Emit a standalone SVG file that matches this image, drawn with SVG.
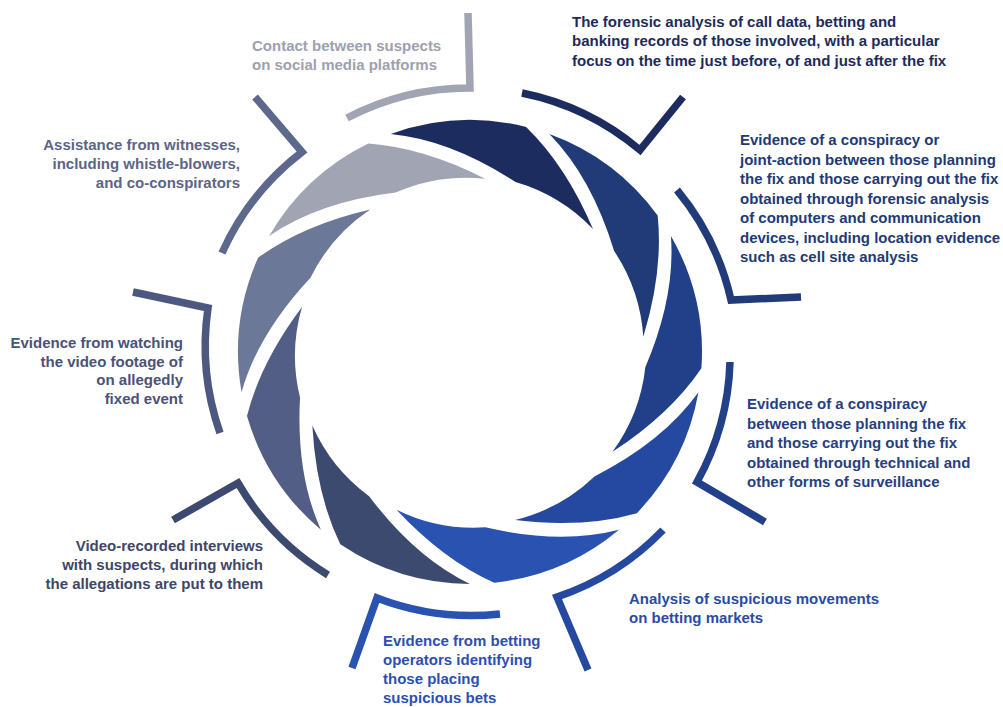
<svg xmlns="http://www.w3.org/2000/svg" xmlns:xlink="http://www.w3.org/1999/xlink" width="1003" height="707" viewBox="0 0 1003 707">
  <style>
    .lbl { font-family: "Liberation Sans", Arial, sans-serif; font-weight: bold; font-size: 15px; }
    .end { text-anchor: end; }
    .brk { fill: none; stroke-width: 7.5; stroke-linecap: butt; stroke-linejoin: miter; }
  </style>
  <defs>
    <path id="blade" d="M 390.7 134 A 233 233 0 0 1 526.1 126.9 Q 566 165.6 593 229 A 175 175 0 0 0 515.5 182 Q 451 140 390.7 134 Z"/>
  </defs>
  <rect width="1003" height="707" fill="#ffffff"/>

  <g id="item-contact">
    <use xlink:href="#blade" href="#blade" transform="rotate(-40 470 352)" fill="#a1a4b2"/>
    <path class="brk" stroke="#a1a4b2" d="M 468 13 L 470 88 A 264 264 0 0 0 347 118"/>
    <text class="lbl" fill="#9ea1ad"><tspan x="252" y="51">Contact between suspects</tspan><tspan x="252" y="70">on social media platforms</tspan></text>
  </g>

  <g id="item-forensic">
    <use xlink:href="#blade" href="#blade" fill="#1d2c5f"/>
    <path class="brk" stroke="#1d2c5f" d="M 683 97 L 640 150 A 264 264 0 0 0 522 93"/>
    <text class="lbl" fill="#1d2b5c"><tspan x="572" y="27">The forensic analysis of call data, betting and</tspan><tspan x="572" y="46.3">banking records of those involved, with a particular</tspan><tspan x="572" y="65.6">focus on the time just before, of and just after the fix</tspan></text>
  </g>

  <g id="item-joint-action">
    <use xlink:href="#blade" href="#blade" transform="rotate(40 470 352)" fill="#213b78"/>
    <path class="brk" stroke="#213b78" d="M 801 297 L 731 300 A 264 264 0 0 0 677 190"/>
    <text class="lbl" fill="#213a76"><tspan x="740" y="145">Evidence of a conspiracy or</tspan><tspan x="740" y="164.5">joint-action between those planning</tspan><tspan x="740" y="184">the fix and those carrying out the fix</tspan><tspan x="740" y="203.5">obtained through forensic analysis</tspan><tspan x="740" y="223">of computers and communication</tspan><tspan x="740" y="242.5">devices, including location evidence</tspan><tspan x="740" y="262">such as cell site analysis</tspan></text>
  </g>

  <g id="item-surveillance">
    <use xlink:href="#blade" href="#blade" transform="rotate(80 470 352)" fill="#22408a"/>
    <path class="brk" stroke="#22408a" d="M 765 522 L 697 482 A 264 264 0 0 0 730 362"/>
    <text class="lbl" fill="#273f80"><tspan x="747" y="409">Evidence of a conspiracy</tspan><tspan x="747" y="428.5">between those planning the fix</tspan><tspan x="747" y="448">and those carrying out the fix</tspan><tspan x="747" y="467.5">obtained through technical and</tspan><tspan x="747" y="487">other forms of surveillance</tspan></text>
  </g>

  <g id="item-market-analysis">
    <use xlink:href="#blade" href="#blade" transform="rotate(120 470 352)" fill="#2549a0"/>
    <path class="brk" stroke="#2549a0" d="M 588 670 L 557 597 A 264 264 0 0 0 663 530"/>
    <text class="lbl" fill="#2a4ba4"><tspan x="629" y="604">Analysis of suspicious movements</tspan><tspan x="629" y="623">on betting markets</tspan></text>
  </g>

  <g id="item-betting-operators">
    <use xlink:href="#blade" href="#blade" transform="rotate(160 470 352)" fill="#2a52b0"/>
    <path class="brk" stroke="#2a52b0" d="M 352 668 L 377 598 A 264 264 0 0 0 500 614"/>
    <text class="lbl" fill="#2c4fb2"><tspan x="383" y="646">Evidence from betting</tspan><tspan x="383" y="665">operators identifying</tspan><tspan x="383" y="684">those placing</tspan><tspan x="383" y="703">suspicious bets</tspan></text>
  </g>

  <g id="item-interviews">
    <use xlink:href="#blade" href="#blade" transform="rotate(200 470 352)" fill="#3d4a70"/>
    <path class="brk" stroke="#3d4a70" d="M 173 520 L 238 483 A 264 264 0 0 0 328 575"/>
    <text class="lbl end" fill="#3e4666"><tspan x="263" y="551">Video-recorded interviews</tspan><tspan x="263" y="570">with suspects, during which</tspan><tspan x="263" y="589">the allegations are put to them</tspan></text>
  </g>

  <g id="item-video-footage">
    <use xlink:href="#blade" href="#blade" transform="rotate(240 470 352)" fill="#525e86"/>
    <path class="brk" stroke="#4c5880" d="M 133 292 L 208 308 A 264 264 0 0 0 220 433"/>
    <text class="lbl end" fill="#4a5377"><tspan x="183" y="348">Evidence from watching</tspan><tspan x="183" y="366.5">the video footage of</tspan><tspan x="183" y="385">on allegedly</tspan><tspan x="183" y="403.5">fixed event</tspan></text>
  </g>

  <g id="item-witnesses">
    <use xlink:href="#blade" href="#blade" transform="rotate(280 470 352)" fill="#6c7898"/>
    <path class="brk" stroke="#5c688c" d="M 255 97 L 302 152 A 264 264 0 0 0 222 253"/>
    <text class="lbl end" fill="#5c6586"><tspan x="240" y="149.5">Assistance from witnesses,</tspan><tspan x="240" y="168.5">including whistle-blowers,</tspan><tspan x="240" y="187.5">and co-conspirators</tspan></text>
  </g>

  <g id="connectors"></g>
</svg>
